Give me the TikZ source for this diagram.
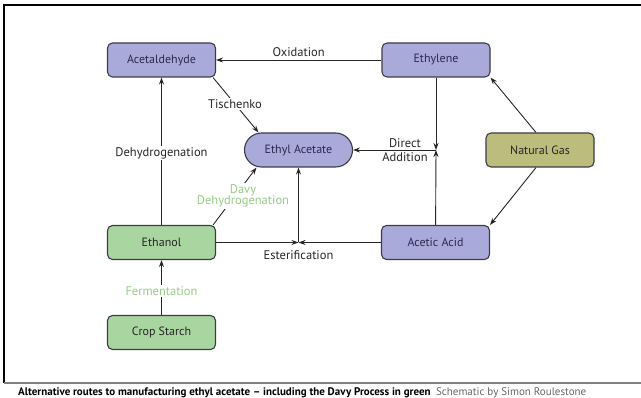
\documentclass[tikz,border=0pt]{standalone}
\usepackage{fontspec}
\setmainfont{PT Sans}
\usetikzlibrary{arrows.meta}
\definecolor{purp}{HTML}{AAAADA}
\definecolor{grn}{HTML}{A9D5A0}
\definecolor{olive}{HTML}{BCBC7C}
\definecolor{edge}{HTML}{3C3C48}
\definecolor{navy}{HTML}{2A2A50}
\definecolor{lgreen}{HTML}{96CC84}
\tikzset{
  box/.style={draw=edge, line width=1.1pt, rounded corners=5pt, minimum width=108pt, minimum height=34pt, inner sep=0pt, font=\fontsize{12}{14}\selectfont, text=navy},
  pbox/.style={box, fill=purp},
  gbox/.style={box, fill=grn, text=black!85},
  obox/.style={box, fill=olive, text=black!85},
  conn/.style={draw=black!85, line width=0.9pt},
  arr/.style={conn, -{Stealth[length=7pt,width=5pt]}},
  lbl/.style={fill=white, inner sep=1.5pt, font=\fontsize{12.5}{14}\selectfont, text=black!85},
  glbl/.style={lbl, text=lgreen, align=center, font=\fontsize{12.5}{11.5}\selectfont},
}
\begin{document}
\begin{tikzpicture}[x=1pt,y=-1pt]
\useasboundingbox (0,0) rectangle (641,398);
% frame
\draw[line width=1.2pt] (641,5) -- (4,5) -- (4,383);
\draw[black!50, line width=1.5pt] (4,383) -- (641,383);
% nodes
\node[pbox] (acet) at (161.5,60) {Acetaldehyde};
\node[pbox] (ethy) at (436,60) {Ethylene};
\node[pbox, rounded corners=17pt] (ea) at (298.5,150) {Ethyl Acetate};
\node[obox] (ng) at (540,150) {Natural Gas};
\node[gbox] (eth) at (161.5,242.5) {Ethanol};
\node[pbox] (aa) at (435.5,242.5) {Acetic Acid};
\node[gbox] (cs) at (161.5,332.5) {Crop Starch};
\coordinate (jE) at (298.5,242.5);
\coordinate (jD) at (436,150);
% connectors
\draw[arr] (ethy) -- node[lbl, above=1pt, fill=none] (ox) {Oxidation} (acet);
\draw[arr] (acet.south east) ++(-3,0) coordinate (t0) -- ([xshift=-40pt]ea.north) ;
\node[lbl] (tis) at (235,104) {Tischenko};
\draw[arr] (eth) -- (acet);
\node[lbl] (dehy) at (161.5,153) {Dehydrogenation};
\draw[arr] (cs) -- (eth);
\node[glbl] (ferm) at (161.5,291) {Fermentation};
\draw[arr] (eth.north east) ++(-3,0) coordinate (d0) -- ([xshift=-42pt]ea.south);
\node[glbl] (davy) at (243,196) {Davy\\Dehydrogenation};
\draw[arr] (eth) -- (jE);
\draw[arr] (aa) -- (jE);
\draw[arr] (jE) -- (ea);
\node[lbl, fill=none] (est) at (298.5,255.5) {Esterification};
\draw[arr] (ethy) -- (jD);
\draw[arr] (aa) -- (jD);
\draw[arr] (jD) -- (ea);
\node[lbl, fill=none, anchor=south, inner sep=1pt] (dir) at (405,149) {Direct};
\node[lbl, fill=none, anchor=north, inner sep=1pt] (add) at (405,151) {Addition};
\draw[arr] ([xshift=-4pt]ng.north) -- (ethy.south east);
\draw[arr] ([xshift=-4pt]ng.south) -- (aa.north east);
% caption
\node[anchor=base west, inner sep=0pt, font=\fontsize{11}{12}\selectfont] (cap) at (18,395.5) {\textbf{Alternative routes to manufacturing ethyl acetate – including the Davy Process in green}\enspace{\color{black!60}Schematic by Simon Roulestone}};
\end{tikzpicture}
\end{document}
